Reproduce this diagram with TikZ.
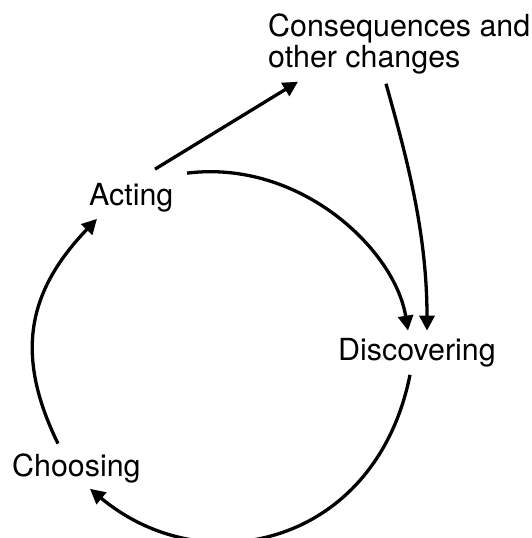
\documentclass[tikz,border=0pt]{standalone}
\usepackage{fontspec}
\setmainfont{TeX Gyre Heros}
\usepackage{tikz}
\usetikzlibrary{arrows.meta}

\begin{document}
\begin{tikzpicture}[x=1pt,y=-1pt,
  lbl/.style={inner sep=0pt,font=\fontsize{30.4}{31}\selectfont},
  conn/.style={line width=3.3pt,-{Triangle[length=15pt,width=15pt]}}]
\useasboundingbox (0,0) rectangle (532,538);

\node [lbl,anchor=north west,align=left] (cons) at (268,14) {Consequences and\\other changes};
\node [lbl,anchor=base west] (acting) at (89,205) {Acting};
\node [lbl,anchor=base west] (disc) at (338,360) {Discovering};
\node [lbl,anchor=base west] (choos) at (12,476) {Choosing};

\draw [conn] ([shift={(66,-13.5)}]acting.north west) -- ([shift={(30,7)}]cons.south west);
\draw [conn] ([shift={(98,-9.5)}]acting.north west) .. controls +(113,-14) and +(-13,-81) .. ([shift={(70,-7)}]disc.north west);
\draw [conn] ([shift={(118,9)}]cons.south west) .. controls +(19,68) and +(0,-101) .. ([shift={(89,-7)}]disc.north west);
\draw [conn] ([shift={(72,8)}]disc.south west) .. controls +(-34,170) and +(115,96) .. ([shift={(78,6)}]choos.south west);
\draw [conn] ([shift={(46,-9.5)}]choos.north west) .. controls +(-44,-90) and +(-69,72) .. ([shift={(8,7)}]acting.south west);

\end{tikzpicture}
\end{document}
